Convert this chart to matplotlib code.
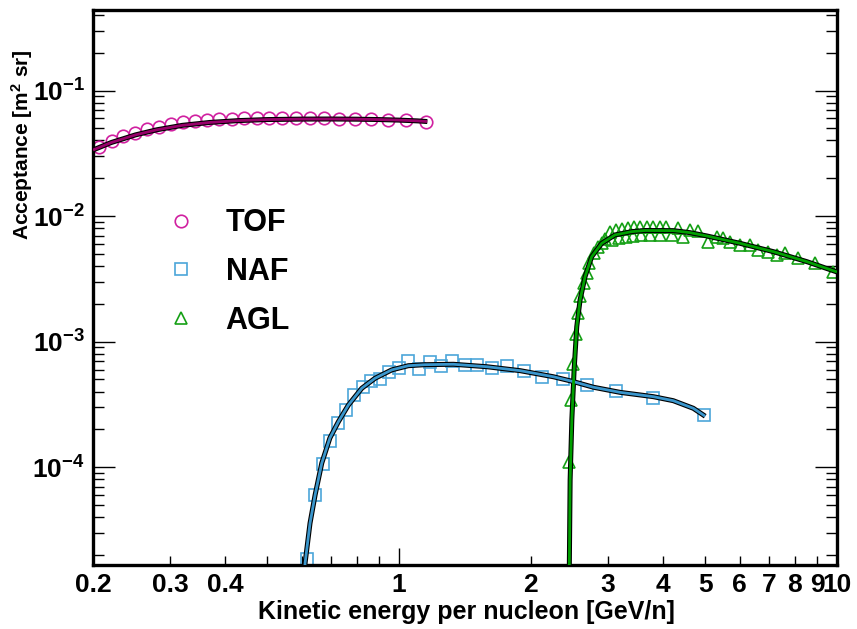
import matplotlib
matplotlib.use('Agg')
import matplotlib.pyplot as plt
from matplotlib.ticker import FixedLocator, FixedFormatter

plt.rcParams['font.family'] = ['Liberation Sans', 'DejaVu Sans']
plt.rcParams['font.weight'] = 'bold'
plt.rcParams['mathtext.fontset'] = 'custom'
plt.rcParams['mathtext.rm'] = 'Liberation Sans:bold'
plt.rcParams['mathtext.bf'] = 'Liberation Sans:bold'
plt.rcParams['mathtext.it'] = 'Liberation Sans:bold'
plt.rcParams['mathtext.default'] = 'rm'

# ---------------- data ----------------
tof_E = [0.2067, 0.2206, 0.2344, 0.2494, 0.2652, 0.2829, 0.3008, 0.3203, 0.3417, 0.3633,
         0.3882, 0.4144, 0.4420, 0.4725, 0.5049, 0.5417, 0.5808, 0.6252, 0.6740, 0.7292,
         0.7918, 0.8643, 0.9431, 1.0388, 1.1536]
tof_A = [0.0353, 0.0398, 0.0434, 0.0461, 0.0491, 0.0515, 0.0538, 0.0558, 0.0572, 0.0582,
         0.0590, 0.0596, 0.0601, 0.0604, 0.0604, 0.0604, 0.0604, 0.0601, 0.0601, 0.0596,
         0.0593, 0.0590, 0.0585, 0.0579, 0.0561]
tof_fit_E = [0.2, 0.22, 0.25, 0.28, 0.32, 0.37, 0.43, 0.5, 0.6, 0.7, 0.8, 0.9, 1.0, 1.1, 1.16]
tof_fit_A = [0.0336, 0.0385, 0.0443, 0.0487, 0.0528, 0.0557, 0.0576, 0.0587, 0.0592, 0.0593,
             0.0591, 0.0587, 0.0581, 0.0573, 0.0566]

naf_E = [0.617, 0.643, 0.669, 0.695, 0.724, 0.755, 0.790, 0.826, 0.863, 0.906,
         0.950, 0.999, 1.050, 1.109, 1.177, 1.245, 1.323, 1.414, 1.510, 1.628,
         1.767, 1.929, 2.124, 2.372, 2.686, 3.128, 3.792, 4.962]
naf_A = [1.85e-5, 6.02e-5, 1.062e-4, 1.629e-4, 2.24e-4, 2.86e-4, 3.77e-4, 4.39e-4, 4.87e-4, 5.02e-4,
         5.77e-4, 6.14e-4, 7.06e-4, 6.03e-4, 6.83e-4, 6.43e-4, 7.02e-4, 6.58e-4, 6.52e-4, 6.14e-4,
         6.43e-4, 5.87e-4, 5.24e-4, 5.05e-4, 4.50e-4, 4.07e-4, 3.56e-4, 2.59e-4]
naf_fit_E = [0.605, 0.610, 0.626, 0.643, 0.666, 0.695, 0.727, 0.766, 0.822, 0.881, 0.962,
             1.050, 1.146, 1.330, 1.586, 1.889, 2.250, 2.500, 2.777, 3.196, 3.806, 4.228,
             4.697, 5.0]
naf_fit_A = [1.0e-5, 1.73e-5, 3.58e-5, 6.02e-5, 1.08e-4, 1.71e-4, 2.31e-4, 3.13e-4, 4.26e-4,
             5.11e-4, 5.96e-4, 6.44e-4, 6.56e-4, 6.61e-4, 6.32e-4, 5.88e-4, 5.26e-4, 4.81e-4,
             4.34e-4, 3.95e-4, 3.65e-4, 3.39e-4, 2.95e-4, 2.55e-4]

agl_E = [2.440, 2.470, 2.500, 2.532, 2.556, 2.590, 2.638, 2.682, 2.719, 2.791, 2.842, 2.902, 2.953,
         3.032, 3.129, 3.228, 3.332, 3.439, 3.550, 3.682, 3.801, 3.944, 4.070, 4.336, 4.618, 4.816,
         3.064, 3.178, 3.297, 3.422, 3.569, 3.741, 3.944, 4.201, 4.451,
         5.084, 5.314, 5.502, 5.699, 6.006, 6.331, 6.613, 6.969, 7.284, 7.609, 8.158, 8.911, 9.810]
agl_A = [1.10e-4, 3.43e-4, 6.64e-4, 1.15e-3, 1.69e-3, 2.31e-3, 2.93e-3, 3.52e-3, 4.26e-3, 5.06e-3,
         5.71e-3, 6.11e-3, 6.53e-3,
         7.47e-3, 7.75e-3, 7.90e-3, 8.04e-3, 8.12e-3, 8.19e-3, 8.19e-3, 8.19e-3, 8.19e-3, 8.12e-3,
         7.97e-3, 7.75e-3, 7.54e-3,
         6.45e-3, 6.69e-3, 6.82e-3, 6.94e-3, 7.01e-3, 7.07e-3, 7.07e-3, 7.07e-3, 6.86e-3,
         6.25e-3, 6.86e-3, 6.66e-3, 6.25e-3, 5.89e-3, 5.89e-3, 5.37e-3, 5.21e-3, 4.90e-3, 5.06e-3,
         4.61e-3, 4.21e-3, 3.61e-3]
agl_fit_E = [2.440, 2.448, 2.458, 2.480, 2.510, 2.545, 2.590, 2.659, 2.753, 2.902, 3.112, 3.399,
             3.645, 4.228, 4.618, 5.042, 6.006, 7.156, 8.530, 10.0]
agl_fit_A = [1.0e-5, 1.73e-5, 7.92e-5, 2.38e-4, 5.96e-4, 1.316e-3, 2.15e-3, 3.30e-3, 4.75e-3,
             6.07e-3, 7.08e-3, 7.52e-3, 7.68e-3, 7.66e-3, 7.38e-3, 6.95e-3, 6.07e-3, 5.21e-3,
             4.34e-3, 3.59e-3]

labels = ['TOF', 'NAF', 'AGL']
x_major = [1, 10]
x_major_labels = ['1', '10']
x_minor = [0.2, 0.3, 0.4, 0.5, 0.6, 0.7, 0.8, 0.9, 2, 3, 4, 5, 6, 7, 8, 9]
x_minor_labels = ['0.2', '0.3', '0.4', '', '', '', '', '', '2', '3', '4', '5', '6', '7', '8', '9']
y_major = [1e-4, 1e-3, 1e-2, 1e-1]
y_major_labels = [r'$10^{-4}$', r'$10^{-3}$', r'$10^{-2}$', r'$10^{-1}$']

# ---------------- figure ----------------
W, H = 857, 629
fig = plt.figure(figsize=(W / 100, H / 100), dpi=100)
ax = fig.add_axes([93 / W, 1 - 565 / H, 744 / W, 555 / H])
ax.set_xscale('log')
ax.set_yscale('log')
ax.set_xlim(0.2, 10)
ax.set_ylim(1.667e-5, 0.4375)

c_tof, c_naf, c_agl = '#d020a0', '#4ba6d9', '#15a015'
l_tof, l_naf, l_agl = '#98006a', '#3a96cc', '#00a000'

ms = 9
h1, = ax.plot(tof_E, tof_A, 'o', ms=ms, mfc='none', mec=c_tof, mew=1.2, label=labels[0], zorder=2)
h2, = ax.plot(naf_E, naf_A, 's', ms=ms, mfc='none', mec=c_naf, mew=1.2, label=labels[1], zorder=2)
h3, = ax.plot(agl_E, agl_A, '^', ms=ms, mfc='none', mec=c_agl, mew=1.2, label=labels[2], zorder=2)

for fe, fa, lc in [(tof_fit_E, tof_fit_A, l_tof), (naf_fit_E, naf_fit_A, l_naf), (agl_fit_E, agl_fit_A, l_agl)]:
    ax.plot(fe, fa, '-', color='black', lw=3.6, zorder=3, solid_capstyle='butt')
    ax.plot(fe, fa, '-', color=lc, lw=2.0, zorder=4, solid_capstyle='butt')

# ticks
ax.xaxis.set_major_locator(FixedLocator(x_major))
ax.xaxis.set_major_formatter(FixedFormatter(x_major_labels))
ax.xaxis.set_minor_locator(FixedLocator(x_minor))
ax.xaxis.set_minor_formatter(FixedFormatter(x_minor_labels))
ax.yaxis.set_major_locator(FixedLocator(y_major))
ax.yaxis.set_major_formatter(FixedFormatter(y_major_labels))

ax.tick_params(axis='both', which='both', direction='in', width=1.0, colors='black')
ax.tick_params(axis='x', which='major', length=12.5, pad=6, labelsize=19, top=False)
ax.tick_params(axis='x', which='minor', length=6.2, pad=6, labelsize=19, top=False)
ax.tick_params(axis='y', which='major', length=16, pad=6, labelsize=19, right=True)
ax.tick_params(axis='y', which='minor', length=8, right=True)
for lab in ax.get_xticklabels(which='both') + ax.get_yticklabels():
    lab.set_fontweight('bold')

for s in ax.spines.values():
    s.set_linewidth(2.4)

fig.text(466 / W, 1 - 612 / H, 'Kinetic energy per nucleon [GeV/n]', ha='center', va='center',
         fontsize=18, fontweight='bold')
fig.text(22 / W, 1 - 145 / H, r'Acceptance [m$^{2}$ sr]', ha='center', va='center',
         rotation=90, fontsize=15, fontweight='bold')

leg = ax.legend(handles=[h1, h2, h3], loc='upper left', bbox_to_anchor=(0.0605, 0.692),
                frameon=False, handlelength=1.0, handletextpad=0.97,
                labelspacing=0.61, prop={'weight': 'bold', 'size': 22})

fig.savefig('out.png', dpi=100)
